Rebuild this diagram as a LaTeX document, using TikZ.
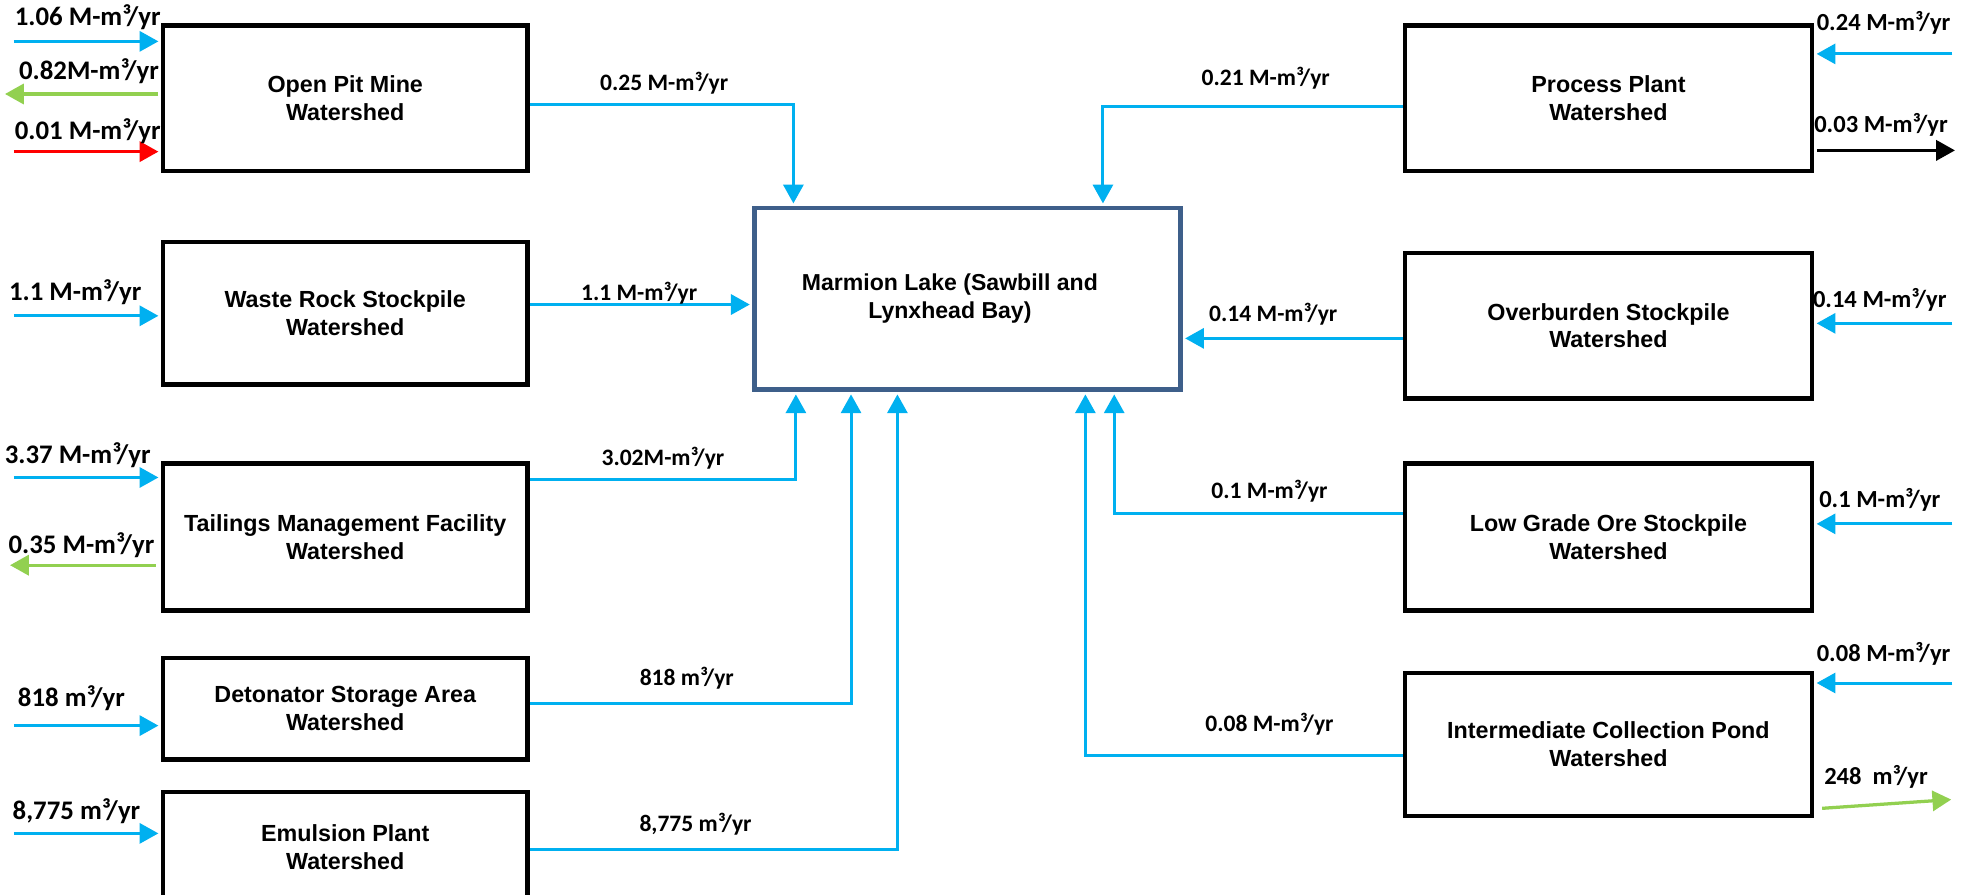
\documentclass[tikz,border=0pt]{standalone}
\usepackage{fontspec}
\setmainfont{Liberation Sans}
\newfontfamily\boxfont{Liberation Sans}
\newfontfamily\flowfont{Carlito}
\usetikzlibrary{arrows.meta}
\definecolor{flowblue}{HTML}{00B0F0}
\definecolor{flowgreen}{HTML}{92D050}
\definecolor{flowred}{HTML}{FF0000}
\definecolor{lakeblue}{HTML}{3E5F8A}
\begin{document}
\begin{tikzpicture}[x=0.5pt,y=-0.5pt,
  btext/.style={align=center,inner sep=0pt,font=\boxfont\bfseries\fontsize{9.3}{11}\selectfont},
  wbox/.style={draw=black,line width=1.8pt,fill=white,btext},
  lake/.style={draw=lakeblue,line width=1.9pt,fill=white,inner sep=0pt},
  flow/.style={draw=flowblue,line width=1.2pt},
  gflow/.style={draw=flowgreen,line width=1.3pt},
  rflow/.style={draw=flowred,line width=1.3pt},
  kflow/.style={draw=black,line width=1.3pt},
  tip/.style={-{Triangle[length=7.5pt,width=8pt]}},
  slbl/.style={inner sep=0pt,font=\flowfont\bfseries\fontsize{10.7}{12}\selectfont},
  rlbl/.style={inner sep=0pt,font=\flowfont\bfseries\fontsize{9.8}{12}\selectfont},
  mlbl/.style={inner sep=0pt,font=\flowfont\bfseries\fontsize{9.4}{12}\selectfont}]
\useasboundingbox (0,0) rectangle (1568,714);
\fill[white] (0,0) rectangle (1568,714);

% boxes
\node[wbox,minimum width=145.5pt,minimum height=58pt] (opm) at (275.5,78.5) {Open Pit Mine\\Watershed};
\node[wbox,minimum width=145.5pt,minimum height=57pt] (wrs) at (275.5,250) {Waste Rock Stockpile\\Watershed};
\node[wbox,minimum width=145.5pt,minimum height=58.5pt] (tmf) at (275.5,428.5) {Tailings Management Facility\\Watershed};
\node[wbox,minimum width=145.5pt,minimum height=40.5pt] (dsa) at (275.5,565.5) {Detonator Storage Area\\Watershed};
\node[wbox,minimum width=145.5pt,minimum height=48pt] (epw) at (275.5,680) {};
\node[btext] (epwt) at (275.5,676) {Emulsion Plant\\Watershed};

\node[wbox,minimum width=162.5pt,minimum height=58pt] (ppw) at (1283.5,78.5) {Process Plant\\Watershed};
\node[wbox,minimum width=162.5pt,minimum height=58pt] (osw) at (1283.5,260) {Overburden Stockpile\\Watershed};
\node[wbox,minimum width=162.5pt,minimum height=58.5pt] (lgo) at (1283.5,428.5) {Low Grade Ore Stockpile\\Watershed};
\node[wbox,minimum width=162.5pt,minimum height=57pt] (icp) at (1283.5,594) {Intermediate Collection Pond\\Watershed};

\node[lake,minimum width=170pt,minimum height=72.5pt] (lake) at (772,238.5) {};
\node[btext,font=\boxfont\bfseries\fontsize{9.2}{11}\selectfont] (laket) at (758,238) {Marmion Lake (Sawbill and\\Lynxhead Bay)};

% flows into the lake
\coordinate (o1) at ([yshift=-2.25pt]opm.east);
\draw[flow,tip,shorten >=0.9pt] (o1) -| ([xshift=16.5pt]lake.north west);
\coordinate (o2) at ([yshift=3.5pt]wrs.east);
\draw[flow,tip,shorten >=0.9pt] (o2) -- (o2 -| lake.west);
\coordinate (o3) at ([yshift=22.75pt]tmf.east);
\draw[flow,tip,shorten >=0.9pt] (o3) -| ([xshift=17.5pt]lake.south west);
\coordinate (o4) at ([yshift=2.25pt]dsa.east);
\draw[flow,tip,shorten >=0.9pt] (o4) -| ([xshift=39.5pt]lake.south west);
\coordinate (o5) at ([yshift=1pt]epw.east);
\draw[flow,tip,shorten >=0.9pt] (o5) -| ([xshift=58pt]lake.south west);
\coordinate (o6) at ([yshift=-3.25pt]ppw.west);
\draw[flow,tip,shorten >=0.9pt] (o6) -| ([xshift=140pt]lake.north west);
\coordinate (o7) at ([yshift=-5pt]osw.west);
\draw[flow,tip,shorten >=0.9pt] (o7) -- (o7 -| lake.east);
\coordinate (o8) at ([yshift=9.25pt]lgo.west);
\draw[flow,tip,shorten >=0.9pt] (o8) -| ([xshift=144.5pt]lake.south west);
\coordinate (o9) at ([yshift=-4.5pt]icp.west);
\draw[flow,tip,shorten >=0.9pt] (o9) -| ([xshift=133pt]lake.south west);

\node[mlbl] (m1) at (530,66) {0.25 M-m³/yr};
\node[mlbl] (m2) at (510,234) {1.1 M-m³/yr};
\node[mlbl] (m3) at (529,366) {3.02M-m³/yr};
\node[mlbl] (m4) at (548,541) {818 m³/yr};
\node[mlbl] (m5) at (555,658) {8,775 m³/yr};
\node[mlbl] (m6) at (1010,62) {0.21 M-m³/yr};
\node[mlbl] (m7) at (1016,251) {0.14 M-m³/yr};
\node[mlbl] (m8) at (1013,392) {0.1 M-m³/yr};
\node[mlbl] (m9) at (1013,578) {0.08 M-m³/yr};

% left side flows
\coordinate (a1) at (11,33);
\draw[flow,tip,shorten >=0.9pt] (a1) -- (a1 -| opm.west);
\coordinate (a2) at (4,75);
\draw[gflow,tip] ([xshift=-1pt]a2 -| opm.west) -- (a2);
\coordinate (a3) at (11,121);
\draw[rflow,tip,shorten >=0.9pt] (a3) -- (a3 -| opm.west);
\coordinate (a4) at (11,252);
\draw[flow,tip,shorten >=0.9pt] (a4) -- (a4 -| wrs.west);
\coordinate (a5) at (11,381);
\draw[flow,tip,shorten >=0.9pt] (a5) -- (a5 -| tmf.west);
\coordinate (a6) at (8,451);
\draw[gflow,tip] ([xshift=-2pt]a6 -| tmf.west) -- (a6);
\coordinate (a7) at (11,579);
\draw[flow,tip,shorten >=0.9pt] (a7) -- (a7 -| dsa.west);
\coordinate (a8) at (11,665);
\draw[flow,tip,shorten >=0.9pt] (a8) -- (a8 -| epw.west);

\node[slbl] (s1) at (70,14) {1.06 M-m³/yr};
\node[slbl] (s2) at (71,57) {0.82M-m³/yr};
\node[slbl] (s3) at (70,105) {0.01 M-m³/yr};
\node[slbl] (s4) at (60,233) {1.1 M-m³/yr};
\node[slbl] (s5) at (62,363) {3.37 M-m³/yr};
\node[slbl] (s6) at (65,435) {0.35 M-m³/yr};
\node[slbl] (s7) at (57,557) {818 m³/yr};
\node[slbl] (s8) at (61,647) {8,775 m³/yr};

% right side flows
\coordinate (b1) at (1558,43);
\draw[flow,tip,shorten >=0.9pt] (b1) -- (b1 -| ppw.east);
\coordinate (b2) at (1560,120);
\draw[kflow,tip] ([xshift=1pt]b2 -| ppw.east) -- (b2);
\coordinate (b3) at (1558,258);
\draw[flow,tip,shorten >=0.9pt] (b3) -- (b3 -| osw.east);
\coordinate (b4) at (1558,418);
\draw[flow,tip,shorten >=0.9pt] (b4) -- (b4 -| lgo.east);
\coordinate (b5) at (1558,545);
\draw[flow,tip,shorten >=0.9pt] (b5) -- (b5 -| icp.east);
\coordinate (b6s) at (1454,645);
\coordinate (b6) at (1557,638);
\draw[gflow,tip] (b6s) -- (b6);

\node[rlbl] (r1) at (1503,18) {0.24 M-m³/yr};
\node[rlbl] (r2) at (1501,100) {0.03 M-m³/yr};
\node[rlbl] (r3) at (1500,239) {0.14 M-m³/yr};
\node[rlbl] (r4) at (1500,399) {0.1 M-m³/yr};
\node[rlbl] (r5) at (1503,522) {0.08 M-m³/yr};
\node[rlbl] (r6) at (1497,620) {248\ \ m³/yr};
\end{tikzpicture}
\end{document}
